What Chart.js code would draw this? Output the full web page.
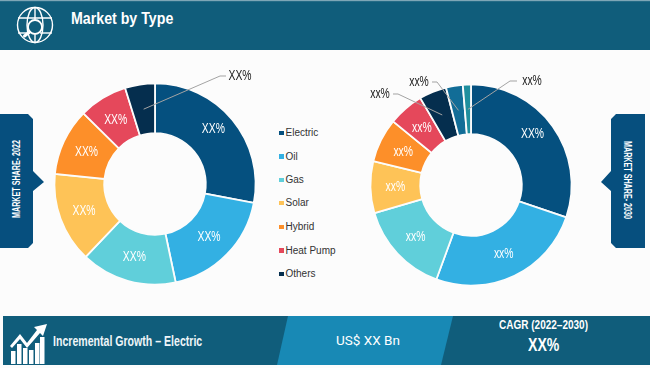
<!DOCTYPE html>
<html><head><meta charset="utf-8">
<script src="https://cdn.jsdelivr.net/npm/chart.js@4/dist/chart.umd.min.js"></script>
<style>
html,body{margin:0;padding:0;background:#fcfcfc;}
#page{position:relative;width:650px;height:368px;overflow:hidden;background:#fcfcfc;font-family:"Liberation Sans",sans-serif;}
.abs{position:absolute;white-space:nowrap;}
canvas{position:absolute;}
.sq{transform-origin:left center;}
.lg{position:absolute;left:285.5px;font-size:10px;line-height:12px;color:#333;white-space:nowrap;}
.sw{position:absolute;left:279px;width:4.5px;height:4.5px;}
</style></head><body>
<div id="page">
<svg class="abs" style="left:0;top:0" width="650" height="368">
  <rect x="0" y="1" width="650" height="49" fill="#105d7b"/>
  <rect x="0" y="0" width="650" height="1.2" fill="#7ea6b6"/>
  <rect x="3" y="316" width="647" height="49" fill="#105d7b"/>
  <polygon points="288,316 453,316 441,365 277,365" fill="#1889b5"/>
  <polygon points="0,114 28,114 33,119 33,171 44,182 33,191 33,243 28,248 0,248" fill="#064f7e"/>
  <polygon points="645,114 616,114 611,119 611,171 601,182 611,191 611,243 616,248 645,248" fill="#064f7e"/>
  <g fill="none" stroke="#fff" stroke-width="1.4">
    <circle cx="35" cy="25" r="17.5"/>
    <ellipse cx="35" cy="25" rx="8" ry="17.5"/>
    <line x1="35" y1="7.5" x2="35" y2="19"/><line x1="35" y1="35" x2="35" y2="42.5"/>
    <line x1="18" y1="18" x2="52" y2="18"/><line x1="18" y1="33" x2="28" y2="33"/><line x1="40" y1="33" x2="52" y2="33"/>
    <circle cx="35" cy="27" r="7" stroke-width="1.8" fill="#105d7b"/>
  </g>
  <line x1="29.5" y1="32" x2="24.5" y2="36" stroke="#fff" stroke-width="3" stroke-linecap="round"/>
  <g fill="#fff">
    <rect x="11" y="351" width="4.5" height="13"/><rect x="17" y="344" width="4.5" height="20"/>
    <rect x="23" y="348" width="4.5" height="16"/><rect x="29" y="350" width="4.5" height="14"/>
    <rect x="35" y="343" width="4.5" height="21"/><rect x="40" y="337" width="4.5" height="27"/>
    <polygon points="47,324 34,327 37,330 27,343 20,334 10,346 12,348 20,339 27,348 40,333 43,336"/>
  </g>
</svg>
<div class="abs sq" style="left:71px;top:8.5px;font-size:17px;line-height:20px;font-weight:bold;color:#fff;transform:scaleX(.835);">Market by Type</div>
<div class="abs sq" style="left:53px;top:332px;font-size:14px;line-height:18px;font-weight:bold;color:#eef5f8;transform:scaleX(.755);">Incremental Growth – Electric</div>
<div class="abs" style="left:336px;top:332px;font-size:13.5px;line-height:16px;font-family:Roboto,sans-serif;color:#fff;">US$ XX Bn</div>
<div class="abs sq" style="left:499px;top:317px;font-size:13px;line-height:16px;font-weight:bold;color:#fff;transform:scaleX(.77);">CAGR (2022–2030)</div>
<div class="abs sq" style="left:528px;top:334px;font-size:19px;line-height:22px;font-weight:bold;color:#fff;transform:scaleX(.74);">XX%</div>
<div class="abs" style="left:16px;top:179px;font-size:11px;line-height:12px;font-weight:bold;color:#fff;transform:translate(-50%,-50%) rotate(-90deg) scaleX(.65);">MARKET SHARE- 2022</div>
<div class="abs" style="left:628px;top:179.5px;font-size:11px;line-height:12px;font-weight:bold;color:#fff;transform:translate(-50%,-50%) rotate(90deg) scaleX(.65);">MARKET SHARE- 2030</div>
<canvas id="c1" style="left:35px;top:64px" width="240" height="240"></canvas>
<canvas id="c2" style="left:350.5px;top:65px" width="240" height="240"></canvas>
<div id="legend"></div>
</div>
<script>
const categories = ["Electric","Oil","Gas","Solar","Hybrid","Heat Pump","Others"];
const categories2030 = ["Electric","Oil","Gas","Solar","Hybrid","Heat Pump","Others","Others B","Others C"];
const share2022 = [28.0,18.7,15.4,14.5,10.8,7.8,4.8];
const share2030 = [30.2,25.4,14.9,8.3,7.1,5.7,4.4,2.7,1.3];
const labels2022 = ["XX%","XX%","XX%","XX%","XX%","XX%","XX%"];
const labels2030 = ["XX%","xx%","xx%","xx%","xx%","xx%","xx%","xx%","xx%"];
const colors = ["#05507f","#33b0e3","#60cfda","#fec357","#fd8f29","#e5485b","#052e4e","#126d97","#1f8f9e"];

const legendY = [127,150.5,174,197,221,244.5,268];
const lg = document.getElementById('legend');
categories.forEach((c,i)=>{
  const s=document.createElement('div');s.className='sw';s.style.top=(legendY[i]+3.5)+'px';s.style.background=colors[i];lg.appendChild(s);
  const t=document.createElement('div');t.className='lg';t.style.top=legendY[i]+'px';t.textContent=c;lg.appendChild(t);
});

function squeezed(ctx,text,x,y){
  ctx.save();ctx.translate(x,y);ctx.scale(.74,1);ctx.fillText(text,0,0);ctx.restore();
}
const labelPlugin = {
  id:'sliceLabels',
  afterDatasetsDraw(chart,args,opts){
    const ctx=chart.ctx, arcs=chart.getDatasetMeta(0).data;
    ctx.save();
    ctx.textBaseline='middle';ctx.textAlign='center';
    ctx.font='14px "Liberation Sans",sans-serif';
    arcs.forEach((arc,i)=>{
      const p=arc.getCenterPoint();
      const lead=opts.leaders[i];
      if(lead){
        ctx.strokeStyle='#a3a3a3';ctx.lineWidth=1;
        ctx.beginPath();ctx.moveTo(p.x,p.y);ctx.lineTo(lead.elbowX,lead.elbowY);ctx.lineTo(lead.endX,lead.elbowY);ctx.stroke();
        ctx.fillStyle='#222';
        squeezed(ctx,opts.labels[i],lead.textX,lead.elbowY+.5);
      }else{
        ctx.fillStyle='#fff';
        squeezed(ctx,opts.labels[i],p.x,p.y+.5-(i===0?7:0));
      }
    });
    ctx.restore();
  }
};
function donut(id,cats,vals,labels,leaders){
  return new Chart(document.getElementById(id),{
    type:'doughnut',
    data:{labels:cats,datasets:[{data:vals,backgroundColor:colors.slice(0,vals.length),borderColor:'#fcfcfc',borderWidth:1.8,borderJoinStyle:'miter'}]},
    options:{responsive:false,animation:false,cutout:'50.5%',layout:{padding:18.5},
      plugins:{legend:{display:false},tooltip:{enabled:false},sliceLabels:{labels,leaders}}},
    plugins:[labelPlugin]
  });
}
donut('c1',categories,share2022,labels2022,{6:{elbowX:185,elbowY:12,endX:191,textX:205}});
donut('c2',categories2030,share2030,labels2030,{
  6:{elbowX:47,elbowY:29,endX:42,textX:29},
  7:{elbowX:86,elbowY:17,endX:81,textX:68},
  8:{elbowX:159,elbowY:16,endX:166,textX:181}
});
</script>
</body></html>
